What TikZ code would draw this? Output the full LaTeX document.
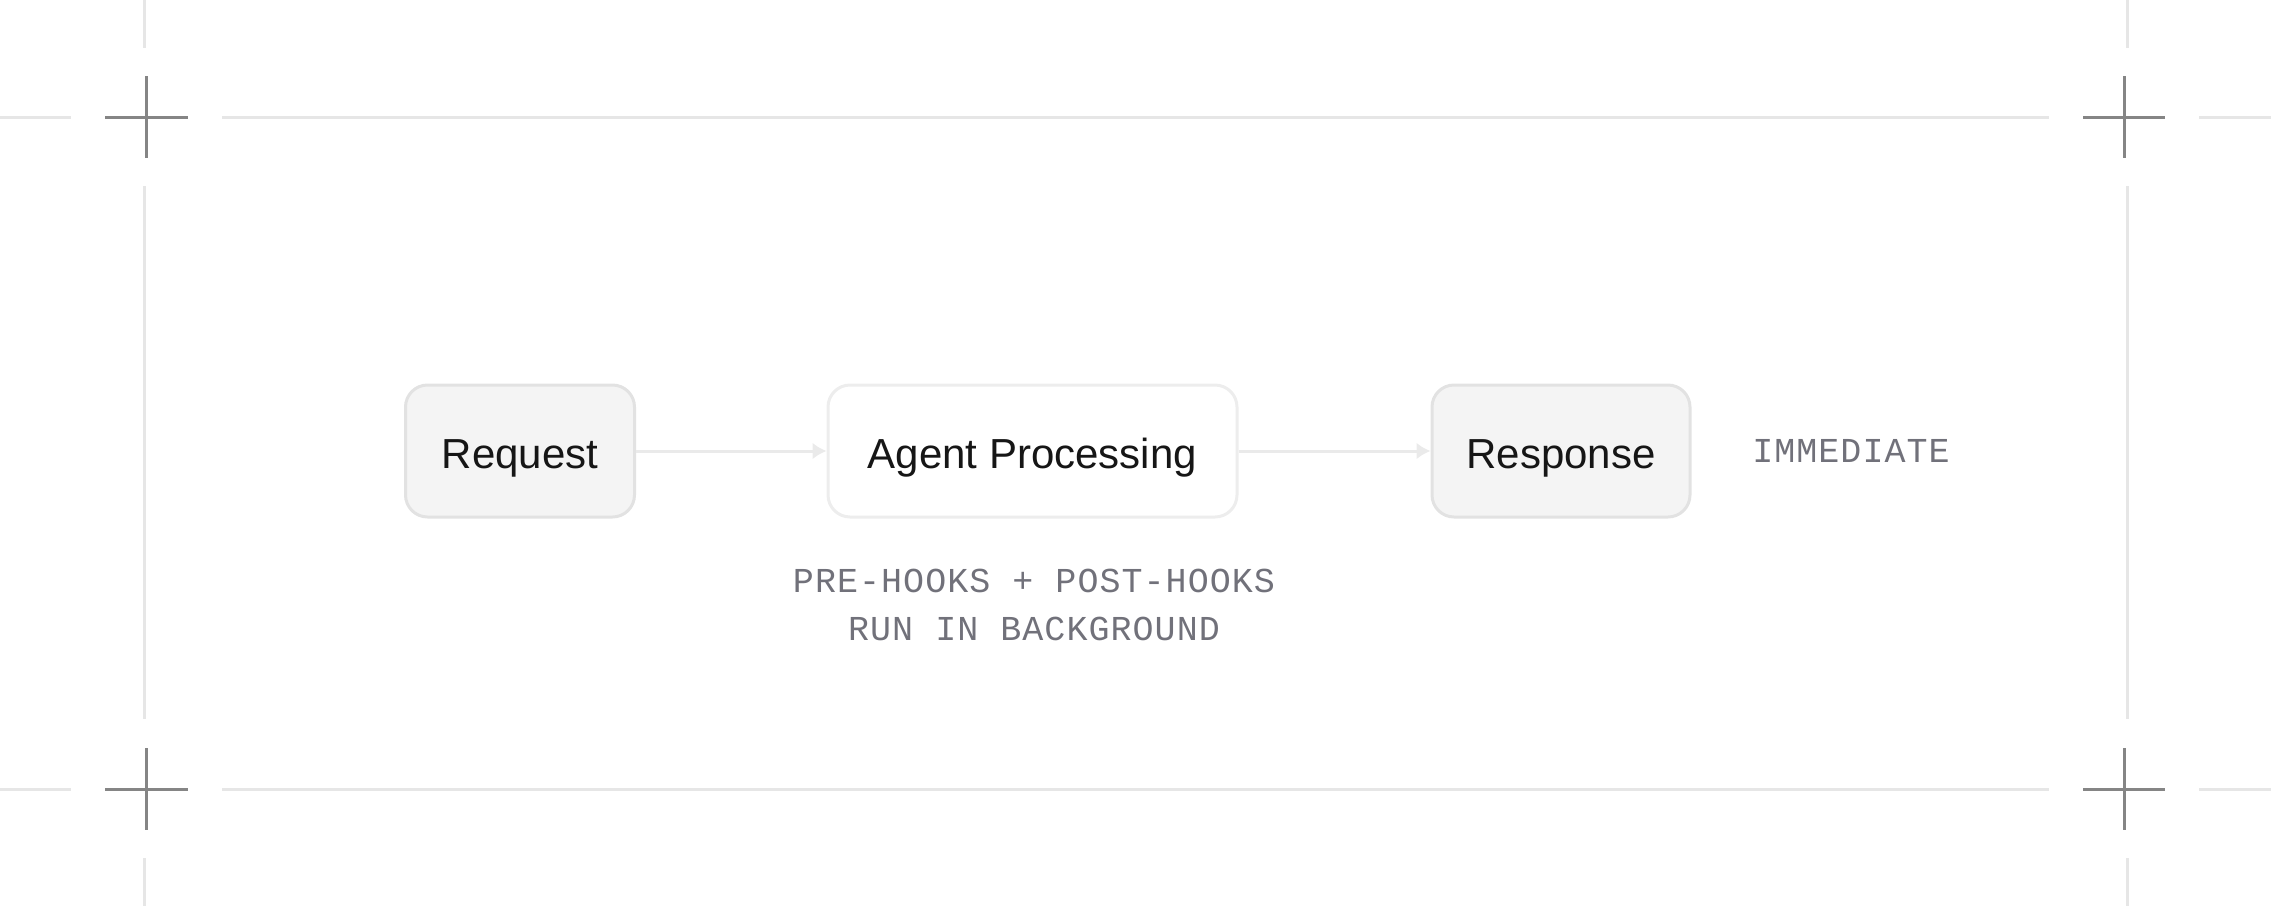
\documentclass[tikz,border=0pt]{standalone}
\usepackage{fontspec}
\usepackage{xcolor}
\usetikzlibrary{arrows.meta}
\usetikzlibrary{positioning}

\setmainfont{Liberation Sans}
\newfontfamily\monolabel[LetterSpace=3]{Liberation Mono}

\definecolor{framegray}{HTML}{E6E6E6}
\definecolor{crossgray}{HTML}{858585}
\definecolor{boxfill}{HTML}{F4F4F4}
\definecolor{boxline}{HTML}{E2E2E2}
\definecolor{softline}{HTML}{EDEDED}
\definecolor{arrowgray}{HTML}{EAEAEA}
\definecolor{notegray}{HTML}{71717A}
\definecolor{labelblack}{HTML}{161616}

\begin{document}
\begin{tikzpicture}[x=0.5pt,y=-0.5pt]
	%\draw[help lines] (0,0) grid (2271,906);
	\useasboundingbox (0,0) rectangle (2271,906);
	
	\tikzstyle{frameline} = [framegray,line width=1.5pt]
	\tikzstyle{crossline} = [crossgray,line width=1.5pt]
	\tikzstyle{stage} = [rectangle,rounded corners=11pt,draw=boxline,fill=boxfill,line width=1.5pt,minimum height=66pt,text height=17pt,text depth=0pt,font=\fontsize{21pt}{25pt}\selectfont,text=labelblack]
	\tikzstyle{work} = [stage,draw=softline,fill=white]
	\tikzstyle{note} = [font=\monolabel\fontsize{17.5pt}{24pt}\selectfont,text=notegray,align=center,inner sep=0pt]
	\tikzstyle{flow} = [-{Latex[length=7pt,width=8.5pt]},arrowgray,line width=1.5pt]
	
	% frame
	\draw[frameline] (0,117) -- (71,117);
	\draw[frameline] (222,117) -- (2049,117);
	\draw[frameline] (2199,117) -- (2271,117);
	\draw[frameline] (0,789) -- (71,789);
	\draw[frameline] (222,789) -- (2049,789);
	\draw[frameline] (2199,789) -- (2271,789);
	\draw[frameline] (144,0) -- (144,48);
	\draw[frameline] (144,186) -- (144,719);
	\draw[frameline] (144,858) -- (144,906);
	\draw[frameline] (2127,0) -- (2127,48);
	\draw[frameline] (2127,186) -- (2127,719);
	\draw[frameline] (2127,858) -- (2127,906);
	
	% crosshairs
	\draw[crossline] (105,117) -- (188,117) (146,76) -- (146,158);
	\draw[crossline] (2083,117) -- (2165,117) (2124,76) -- (2124,158);
	\draw[crossline] (105,789) -- (188,789) (146,748) -- (146,830);
	\draw[crossline] (2083,789) -- (2165,789) (2124,748) -- (2124,830);
	
	\node[stage,minimum width=114.5pt] (request) at (520,451) {Request};
	\node[work,minimum width=204.5pt] (agent) at (1032.5,451) {Agent Processing};
	\node[stage,minimum width=129pt] (response) at (1561,451) {Response};
	
	\node[note] (immediate) at (1851,451) {IMMEDIATE};
	\node[note] (hooks) at (1034,604.5) {PRE-HOOKS + POST-HOOKS\\RUN IN BACKGROUND};
	
	\draw (request) edge [flow] (agent);
	\draw (agent) edge [flow] (response);

\end{tikzpicture}
\end{document}
